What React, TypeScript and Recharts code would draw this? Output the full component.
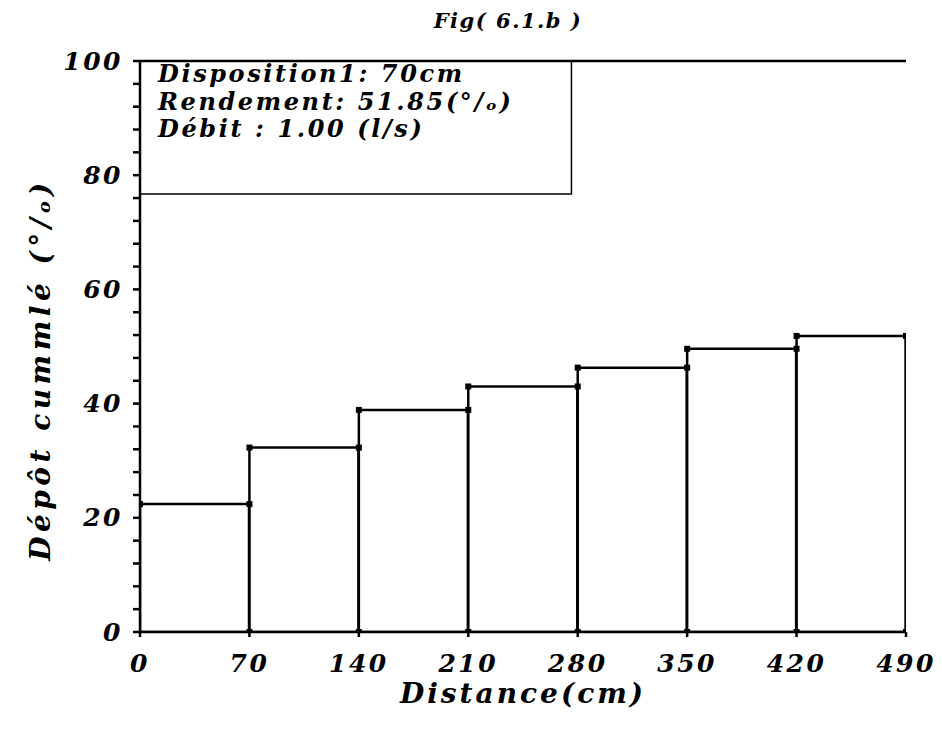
import React from 'react';
import {
  ComposedChart, Bar, Scatter, XAxis, YAxis, ReferenceArea, Label,
} from 'recharts';

const binStart = [0, 70, 140, 210, 280, 350, 420];
const binEnd = [70, 140, 210, 280, 350, 420, 490];
const depot = [22.4, 32.3, 38.9, 43.0, 46.3, 49.6, 51.85];
const xTicks = [0, 70, 140, 210, 280, 350, 420, 490];
const yTicks = [0, 4, 8, 12, 16, 20, 24, 28, 32, 36, 40, 44, 48, 52, 56, 60, 64, 68, 72, 76, 80, 84, 88, 92, 96, 100];
const yLabelled = [0, 20, 40, 60, 80, 100];
const infoLines = ['Disposition1: 70cm', 'Rendement: 51.85(°/ₒ)', 'Débit : 1.00 (l/s)'];
const title = 'Fig( 6.1.b )';
const xLabel = 'Distance(cm)';
const yLabel = 'Dépôt cummlé (°/ₒ)';

const FONT = '"DejaVu Serif", serif';

const barData = binStart.map((s, i) => ({ x: (s + binEnd[i]) / 2, y: depot[i] }));
const cornerData = binStart.flatMap((s, i) => [
  { x: s, y: depot[i] },
  { x: binEnd[i], y: depot[i] },
  { x: binEnd[i], y: 0 },
]);

const Square = (props: any) => {
  const { cx, cy } = props;
  if (cx == null || cy == null) return null;
  return <rect x={cx - 3} y={cy - 3} width={6} height={6} fill="#000" />;
};

const BoxText = (props: any) => {
  const vb = props.viewBox || {};
  const x0 = (vb.x ?? 0) + 18;
  const y0 = (vb.y ?? 0) + 21;
  return (
    <text x={x0} y={y0} fontFamily={FONT} fontWeight="bold" fontStyle="italic" fontSize={24} letterSpacing={2.6} fill="#000">
      {infoLines.map((l, i) => (
        <tspan key={i} x={x0} y={y0 + i * 27.5}>{l}</tspan>
      ))}
    </text>
  );
};

const TitleLabel = (props: any) => {
  const vb = props.viewBox || {};
  const cx = (vb.x ?? 0) + (vb.width ?? 0) / 2 - 15;
  return (
    <text x={cx} y={20} textAnchor="middle" fontFamily={FONT} fontWeight="bold" fontStyle="italic" fontSize={21} letterSpacing={1.5} fill="#000">
      {title}
    </text>
  );
};

const XTitle = (props: any) => {
  const vb = props.viewBox || {};
  const cx = (vb.x ?? 0) + (vb.width ?? 0) / 2;
  return (
    <text x={cx} y={695} textAnchor="middle" fontFamily={FONT} fontWeight="bold" fontStyle="italic" fontSize={28} letterSpacing={3} fill="#000">
      {xLabel}
    </text>
  );
};

const YTitle = (props: any) => {
  const vb = props.viewBox || {};
  const cy = (vb.y ?? 0) + (vb.height ?? 0) / 2 + 23;
  const cx = 32;
  return (
    <text x={cx} y={cy} transform={`rotate(-90 ${cx} ${cy})`} textAnchor="middle" dominantBaseline="central" fontFamily={FONT} fontWeight="bold" fontStyle="italic" fontSize={28} letterSpacing={4.5} fill="#000">
      {yLabel}
    </text>
  );
};

const YTick = (props: any) => {
  const { x, y, payload } = props;
  if (!yLabelled.includes(payload.value)) return null;
  return (
    <text x={x} y={y} textAnchor="end" dominantBaseline="central" fontFamily={FONT} fontWeight="bold" fontStyle="italic" fontSize={25} letterSpacing={2.5} fill="#000">
      {payload.value}
    </text>
  );
};

const XTick = (props: any) => {
  const { x, y, payload } = props;
  return (
    <text x={x} y={y} dy="0.72em" textAnchor="middle" fontFamily={FONT} fontWeight="bold" fontStyle="italic" fontSize={25} letterSpacing={2.5} fill="#000">
      {payload.value}
    </text>
  );
};

export default function App() {
  return (
    <ComposedChart
      width={934}
      height={722}
      data={barData}
      margin={{ top: 0, right: 36, left: 0, bottom: 0 }}
      barCategoryGap={0}
      barGap={0}
    >
      <XAxis
        xAxisId="b"
        type="number"
        dataKey="x"
        domain={[0, 490]}
        ticks={xTicks}
        allowDataOverflow
        height={98}
        tickSize={5}
        tickMargin={17}
        stroke="#000"
        strokeWidth={2.5}
        tick={<XTick />}
        interval={0}
      >
        <Label content={<XTitle />} />
      </XAxis>
      <XAxis
        xAxisId="s"
        type="number"
        dataKey="x"
        domain={[0, 490]}
        allowDataOverflow
        hide
      />
      <XAxis
        xAxisId="t"
        orientation="top"
        type="number"
        dataKey="x"
        domain={[0, 490]}
        allowDataOverflow
        height={53}
        tick={false}
        tickLine={false}
        stroke="#000"
        strokeWidth={2.5}
      >
        <Label content={<TitleLabel />} />
      </XAxis>
      <YAxis
        yAxisId="l"
        type="number"
        dataKey="y"
        domain={[0, 100]}
        ticks={yTicks}
        allowDataOverflow
        width={132}
        tickSize={7}
        tickMargin={10}
        stroke="#000"
        strokeWidth={2.5}
        tick={<YTick />}
        interval={0}
      >
        <Label content={<YTitle />} />
      </YAxis>
      <YAxis
        yAxisId="r"
        orientation="right"
        type="number"
        domain={[0, 100]}
        allowDataOverflow
        width={0}
        tick={false}
        tickLine={false}
        stroke="#000"
        strokeWidth={2.5}
      />
      <Bar
        xAxisId="b"
        yAxisId="l"
        dataKey="y"
        fill="none"
        stroke="#000"
        strokeWidth={2.5}
        isAnimationActive={false}
      />
      <Scatter
        xAxisId="s"
        yAxisId="l"
        data={cornerData}
        dataKey="y"
        shape={<Square />}
        isAnimationActive={false}
      />
      <ReferenceArea
        xAxisId="b"
        yAxisId="l"
        x1={0}
        x2={276}
        y1={76.7}
        y2={100}
        fill="#fff"
        fillOpacity={1}
        stroke="#000"
        strokeWidth={1.5}
        label={<BoxText />}
      />
    </ComposedChart>
  );
}
